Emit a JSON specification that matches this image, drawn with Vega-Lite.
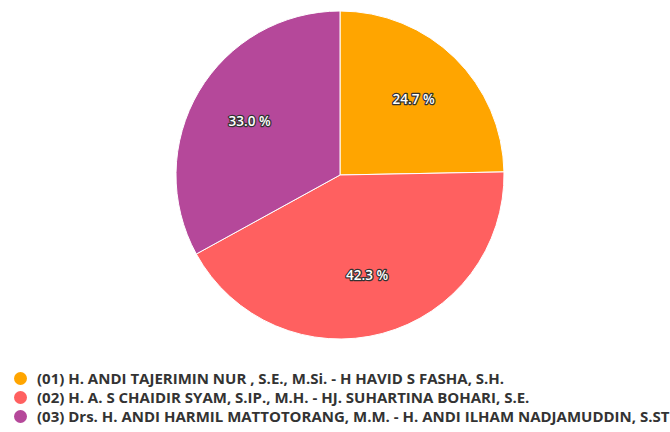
{
  "$schema": "https://vega.github.io/schema/vega-lite/v6.json",
  "width": 660,
  "height": 330,
  "autosize": {"type": "none"},
  "padding": {"left": 10, "top": 10, "right": 0, "bottom": 92},
  "background": "white",
  "config": {"view": {"stroke": null}},
  "data": {
    "values": [
      {"order": 1, "candidate": "(01) H. ANDI TAJERIMIN NUR , S.E., M.Si. - H HAVID S FASHA, S.H.", "pct": 24.7, "label": "24.7 %"},
      {"order": 2, "candidate": "(02) H. A. S CHAIDIR SYAM, S.IP., M.H. - HJ. SUHARTINA BOHARI, S.E.", "pct": 42.3, "label": "42.3 %"},
      {"order": 3, "candidate": "(03) Drs. H. ANDI HARMIL MATTOTORANG, M.M. - H. ANDI ILHAM NADJAMUDDIN, S.ST", "pct": 33.0, "label": "33.0 %"}
    ]
  },
  "encoding": {
    "theta": {"field": "pct", "type": "quantitative", "stack": true},
    "order": {"field": "order", "type": "quantitative"}
  },
  "layer": [
    {
      "mark": {"type": "arc", "outerRadius": 164, "stroke": "white", "strokeWidth": 1},
      "encoding": {
        "color": {
          "field": "candidate",
          "type": "nominal",
          "sort": {"field": "order"},
          "scale": {"range": ["#FFA500", "#FF6060", "#B5489A"]},
          "legend": {
            "title": null,
            "orient": "none",
            "legendX": 3,
            "legendY": 361,
            "symbolType": "circle",
            "symbolSize": 169,
            "symbolStrokeWidth": 0,
            "labelFont": "Open Sans",
            "labelFontSize": 15,
            "labelFontWeight": "bold",
            "labelColor": "#333333",
            "labelLimit": 1000,
            "rowPadding": 3,
            "labelOffset": 9
          }
        }
      }
    },
    {
      "mark": {"type": "text", "radius": 105, "font": "Open Sans", "fontSize": 13.5, "fontWeight": 600, "stroke": "#333333", "strokeWidth": 2.5, "strokeJoin": "round"},
      "encoding": {"text": {"field": "label"}}
    },
    {
      "mark": {"type": "text", "radius": 105, "font": "Open Sans", "fontSize": 13.5, "fontWeight": 600, "fill": "white"},
      "encoding": {"text": {"field": "label"}}
    }
  ]
}
